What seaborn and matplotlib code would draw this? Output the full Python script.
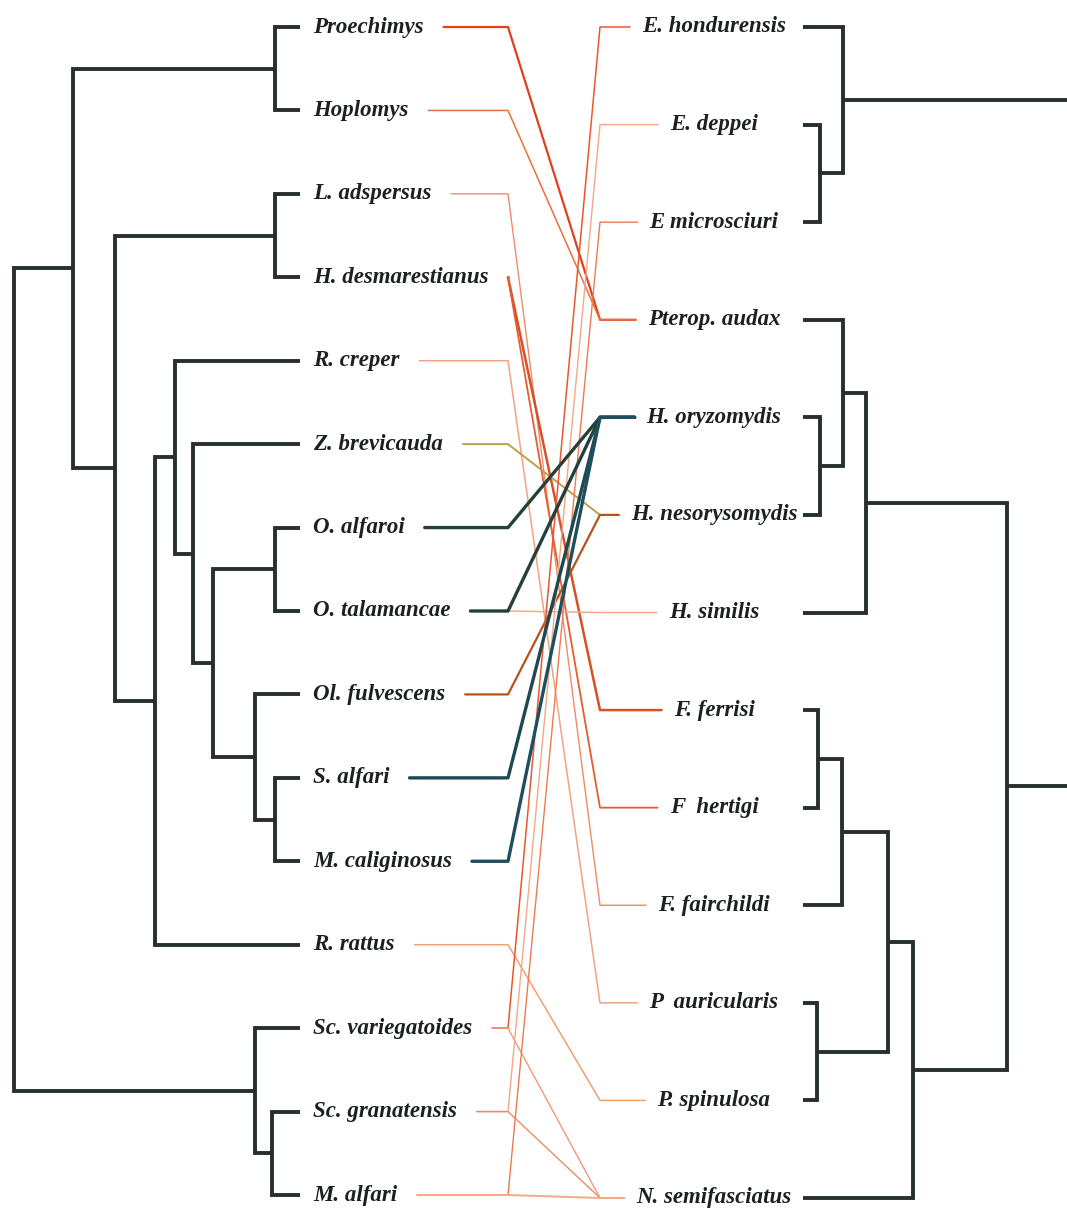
import matplotlib
matplotlib.use("Agg")
import pandas as pd
import matplotlib.pyplot as plt
import seaborn as sns

# host (left) and louse (right) taxa, top to bottom
hosts = ["Proechimys", "Hoplomys", "L. adspersus", "H. desmarestianus", "R. creper",
         "Z. brevicauda", "O. alfaroi", "O. talamancae", "Ol. fulvescens", "S. alfari",
         "M. caliginosus", "R. rattus", "Sc. variegatoides", "Sc. granatensis", "M. alfari"]
parasites = ["E. hondurensis", "E. deppei", "E microsciuri", "Pterop. audax", "H. oryzomydis",
             "H. nesorysomydis", "H. similis", "F. ferrisi", "F  hertigi", "F. fairchildi",
             "P  auricularis", "P. spinulosa", "N. semifasciatus"]

# tree topology: clade -> children (int = tip index)
host_clades = {"root": ["A", "S"], "A": ["PH", "B"], "PH": [0, 1], "B": ["LH", "Rr"],
               "LH": [2, 3], "Rr": ["R", 11], "R": [4, "Z"], "Z": [5, "O2"],
               "O2": ["OO", "Ol"], "OO": [6, 7], "Ol": [8, "SM"], "SM": [9, 10],
               "S": [12, "S2"], "S2": [13, 14]}
host_depth = {"root": 14, "A": 73, "PH": 275, "B": 115, "LH": 275, "Rr": 155, "R": 175,
              "Z": 193, "O2": 213, "OO": 275, "Ol": 255, "SM": 275, "S": 255, "S2": 272}

para_clades = {"E": [0, "Ed"], "Ed": [1, 2], "L": ["Hs", "N"], "Hs": ["PP", 6],
               "PP": [3, "Hn"], "Hn": [4, 5], "N": ["FP", 12], "FP": ["F2", "P"],
               "F2": ["F1", 9], "F1": [7, 8], "P": [10, 11]}
para_depth = {"E": 843, "Ed": 820, "L": 1007, "Hs": 866, "PP": 843, "Hn": 820, "N": 913,
              "FP": 888, "F2": 842, "F1": 818, "P": 817}
para_roots = ["E", "L"]

# host index -> parasite index
links = [(0, 3), (1, 3), (2, 9), (3, 7), (3, 8), (4, 10), (5, 5), (7, 6), (8, 5),
         (11, 11), (12, 0), (12, 12), (13, 1), (13, 12), (14, 2), (14, 12),
         (6, 4), (7, 4), (9, 4), (10, 4)]
link_colors = ["#e0401c", "#e87040", "#ee8c68", "#d4522a", "#e85a30", "#f0a482", "#b8a050",
               "#f2ac8c", "#b5531f", "#f0a070", "#e8582e", "#f09878", "#f2a888", "#f08a66",
               "#ee7a50", "#f2aa8a", "#24403a", "#24403a", "#1d4a50", "#1f4f5e"]
link_widths = [1.6, 1.1, 1.0, 1.8, 1.3, 1.1, 1.4, 1.1, 1.6, 1.1, 1.1, 1.0, 1.0, 1.0,
               1.0, 1.4, 2.4, 2.4, 2.4, 2.4]

W, H = 1067, 1216
tree_col = "#28302d"


def tip_ys(n, top, bottom):
    step = (bottom - top) / (n - 1)
    return [top + i * step for i in range(n)]


def build(clades, depth, node, tip_x, ys, paths):
    if isinstance(node, int):
        return tip_x, ys[node]
    pts = [build(clades, depth, c, tip_x, ys, paths) for c in clades[node]]
    xn = depth[node]
    (x1, y1), (x2, y2) = pts
    paths.append([(x1, y1), (xn, y1), (xn, y2), (x2, y2)])
    return xn, (y1 + y2) / 2


host_y = tip_ys(len(hosts), 27, 1195)
para_y = tip_ys(len(parasites), 27, 1198)

tree_paths = []
build(host_clades, host_depth, "root", 300, host_y, tree_paths)
for r in para_roots:
    xr, yr = build(para_clades, para_depth, r, 803, para_y, tree_paths)
    tree_paths.append([(xr, yr), (W, yr)])

rows = []
for k, p in enumerate(tree_paths):
    for x, y in p:
        rows.append({"seg": k, "x": x, "y": y})
tree_df = pd.DataFrame(rows)

sns.set_theme(style="white")
fig = plt.figure(figsize=(W / 100, H / 100), dpi=100)
ax = fig.add_axes([0, 0, 1, 1])
ax.set_xlim(0, W)
ax.set_ylim(H, 0)
ax.axis("off")

font = dict(family=["Liberation Serif", "DejaVu Serif"], style="italic", weight="bold",
            fontsize=16.5, color="#1a211f")
host_txt = [ax.text(313, y, s, ha="left", va="center", **font) for s, y in zip(hosts, host_y)]
para_txt = [ax.text(714, y, s, ha="center", va="center", **font) for s, y in zip(parasites, para_y)]

fig.canvas.draw()
rend = fig.canvas.get_renderer()
inv = ax.transData.inverted()
host_end = [inv.transform(t.get_window_extent(rend))[1][0] + 20 for t in host_txt]
para_start = [inv.transform(t.get_window_extent(rend))[0][0] - 12 for t in para_txt]

lrows = []
for k, (h, p) in enumerate(links):
    name = f"L{k:02d}"
    for x, y in [(host_end[h], host_y[h]), (508, host_y[h]), (600, para_y[p]), (para_start[p], para_y[p])]:
        lrows.append({"link": name, "x": x, "y": y})
link_df = pd.DataFrame(lrows)
names = [f"L{k:02d}" for k in range(len(links))]

sns.lineplot(data=link_df, x="x", y="y", hue="link", size="link", hue_order=names,
             size_order=names, palette=dict(zip(names, link_colors)),
             sizes=dict(zip(names, link_widths)), estimator=None, sort=False,
             legend=False, ax=ax)

sns.lineplot(data=tree_df, x="x", y="y", units="seg", estimator=None, sort=False,
             color=tree_col, linewidth=2.8, ax=ax)
for line in ax.lines[-len(tree_paths):]:
    line.set_solid_joinstyle("miter")
    line.set_solid_capstyle("butt")

ax.set_xlim(0, W)
ax.set_ylim(H, 0)
ax.axis("off")
fig.savefig("out.png", dpi=100)
